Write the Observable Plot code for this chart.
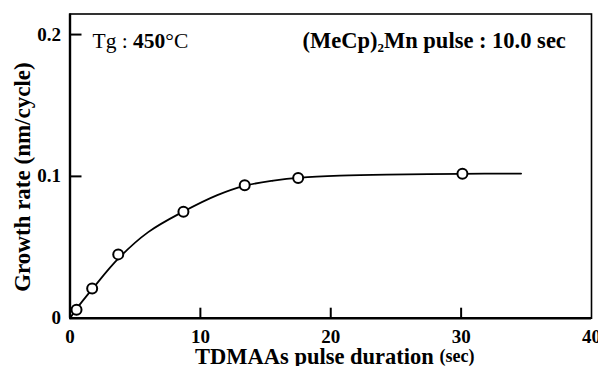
<!DOCTYPE html>
<html><head><meta charset="utf-8">
<script src="https://cdn.jsdelivr.net/npm/d3@7"></script>
<script src="https://cdn.jsdelivr.net/npm/@observablehq/plot@0.6"></script>
<style>body{margin:0;background:#fff}</style>
</head><body><div id="chart"></div>
<script>
// measured points
const pulseDuration = [0.5, 1.7, 3.7, 8.7, 13.4, 17.5, 30.1];
const growthRate = [0.006, 0.021, 0.045, 0.075, 0.0937, 0.0988, 0.1019];
// fitted curve
const fitX = [0, 0.5, 1.75, 3.7, 6, 8.7, 11.3, 13.45, 15.6, 17.7, 20.7, 24.3, 30, 34.6];
const fitY = [0, 0.0066, 0.021, 0.042, 0.0607, 0.0752, 0.0868, 0.0935, 0.0970, 0.0991, 0.1005, 0.1013, 0.1018, 0.102];
// axes
const xTickLabels = [0, 10, 20, 30, 40];
const xTicks = [10, 20, 30];
const yTickLabels = [0, 0.1, 0.2];
const yTicks = [0.1, 0.2];
const xTitle = "TDMAAs pulse duration (sec)";
const yTitle = "Growth rate (nm/cycle)";
const note1 = "Tg : 450°C";
const note2 = "(MeCp)2Mn pulse : 10.0 sec";

const points = pulseDuration.map((x, i) => ({x, y: growthRate[i]}));
const fit = fitX.map((x, i) => ({x, y: fitY[i]}));
const serif = "'Liberation Serif', 'Times New Roman', serif";

const W = 598, H = 366, mL = 69.5, mR = 7, mT = 13.5, mB = 48.3;
const xTickPx = 10, yTickPx = 12; // inward tick lengths

const chart = Plot.plot({
  width: W, height: H,
  marginLeft: mL, marginRight: mR, marginTop: mT, marginBottom: mB,
  style: {fontFamily: serif, fontSize: "19px", fontWeight: "bold", background: "#fff", color: "#000"},
  x: {domain: [0, 40]},
  y: {domain: [0, 0.2145]},
  marks: [
    Plot.frame({stroke: "#000", strokeWidth: 1.6}),
    Plot.ruleX(xTicks, {x: d => d, insetTop: (H - mT - mB) - xTickPx, stroke: "#000", strokeWidth: 2}),
    Plot.ruleY(yTicks, {y: d => d, insetRight: (W - mL - mR) - yTickPx, stroke: "#000", strokeWidth: 2}),
    Plot.ruleX([0], {stroke: "#000", strokeWidth: 2.4}),
    Plot.ruleY([0], {stroke: "#000", strokeWidth: 2.4}),
    Plot.axisX(xTickLabels, {tickSize: 0, tickPadding: 11, label: null, fontSize: 19, fontWeight: "bold"}),
    Plot.axisY(yTickLabels, {tickSize: 0, tickPadding: 9, label: null, fontSize: 19, fontWeight: "bold",
      tickFormat: d => d === 0 ? "0" : d.toFixed(1)}),
    Plot.line(fit, {x: "x", y: "y", curve: "catmull-rom", stroke: "#000", strokeWidth: 1.8}),
    Plot.dot(points, {x: "x", y: "y", r: 5, fill: "#fff", stroke: "#000", strokeWidth: 2}),
    Plot.text([xTitle], {frameAnchor: "bottom", textAnchor: "middle", lineAnchor: "middle", dy: 39, dx: 4, fontSize: 22.5, fontWeight: "bold"}),
    Plot.text([yTitle], {frameAnchor: "left", textAnchor: "middle", lineAnchor: "middle", dx: -47, dy: 11, rotate: -90, fontSize: 23, fontWeight: "bold"}),
    Plot.text([note1], {frameAnchor: "top-left", textAnchor: "start", lineAnchor: "middle", dx: 22.5, dy: 27, fontSize: 21.5, fontWeight: "normal"}),
    Plot.text([note2], {frameAnchor: "top-left", textAnchor: "start", lineAnchor: "middle", dx: 232.5, dy: 27, fontSize: 22.5, fontWeight: "bold"})
  ]
});
document.getElementById("chart").appendChild(chart);

const svg = d3.select(chart);
const byText = s => svg.selectAll("text").filter(function () { return this.textContent === s; });
byText(xTitle).each(function () {
  const t = d3.select(this); t.text("TDMAAs pulse duration ");
  t.append("tspan").attr("font-size", 18).attr("dy", -2).text("(sec)");
});
byText(note1).each(function () {
  const t = d3.select(this); t.text("Tg : ");
  t.append("tspan").attr("font-weight", "bold").text("450");
  t.append("tspan").text("°C");
});
byText(note2).each(function () {
  const t = d3.select(this); t.text("(MeCp)");
  t.append("tspan").attr("font-size", 13).attr("dy", 4).text("2");
  t.append("tspan").attr("dy", -4).text("Mn pulse : 10.0 sec");
});
</script>
</body></html>
